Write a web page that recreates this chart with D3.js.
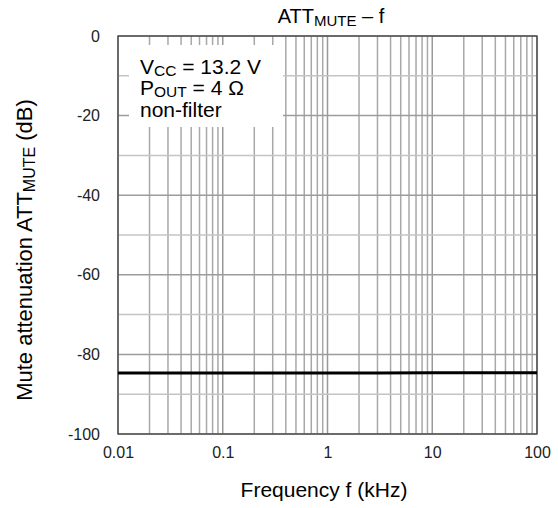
<!DOCTYPE html>
<html><head><meta charset="utf-8">
<script src="https://cdn.jsdelivr.net/npm/d3@7"></script>
<style>body{margin:0;background:#fff}svg{font-family:"Liberation Sans",Arial,sans-serif}</style>
</head><body><svg id="c" width="558" height="508"></svg>
<script>
const freqs = [0.01, 0.03, 0.1, 0.3, 1, 3, 10, 30, 100];
const attValues = [-84.7, -84.7, -84.7, -84.7, -84.7, -84.7, -84.6, -84.6, -84.6];
const xTicks = [0.01, 0.1, 1, 10, 100];
const xTickLabels = ["0.01", "0.1", "1", "10", "100"];
const yTicks = [0, -20, -40, -60, -80, -100];
const yTickLabels = ["0", "-20", "-40", "-60", "-80", "-100"];
const legendLines = [["V", "CC", " = 13.2 V"], ["P", "OUT", " = 4 Ω"], ["non-filter", "", ""]];

const svg = d3.select("#c");
const L = 118, R = 537, T = 36, B = 434;
const x = d3.scaleLog().domain([0.01, 100]).range([L, R]);
const y = d3.scaleLinear().domain([-100, 0]).range([B, T]);

// grid
const g = svg.append("g");
const minor = [];
for (let d = 0.01; d < 100; d *= 10) for (let k = 2; k <= 9; k++) minor.push(+(d * k).toPrecision(3));
g.selectAll(".vm").data(minor).enter().append("line")
  .attr("x1", d => x(d)).attr("x2", d => x(d)).attr("y1", T).attr("y2", B)
  .attr("stroke", "#a8a8a8").attr("stroke-width", 1.5);
g.selectAll(".vM").data(xTicks).enter().append("line")
  .attr("x1", d => x(d)).attr("x2", d => x(d)).attr("y1", T).attr("y2", B)
  .attr("stroke", "#999").attr("stroke-width", 1.5);
const hMinor = d3.range(-90, 0, 20);
g.selectAll(".hm").data(hMinor).enter().append("line")
  .attr("x1", L).attr("x2", R).attr("y1", d => y(d)).attr("y2", d => y(d))
  .attr("stroke", "#c4c4c4").attr("stroke-width", 1.5);
g.selectAll(".hM").data(yTicks).enter().append("line")
  .attr("x1", L).attr("x2", R).attr("y1", d => y(d)).attr("y2", d => y(d))
  .attr("stroke", "#9c9c9c").attr("stroke-width", 1.5);

// legend box
svg.append("rect").attr("x", 129).attr("y", 45).attr("width", 154).attr("height", 82).attr("fill", "#fff");
const lt = svg.append("g").attr("font-size", 21).attr("fill", "#000");
legendLines.forEach((l, i) => {
  const t = lt.append("text").attr("x", 140).attr("y", 73.5 + i * 21.5);
  t.append("tspan").text(l[0]);
  if (l[1]) t.append("tspan").attr("dy", 2).attr("font-size", 15.5).text(l[1]);
  if (l[2]) t.append("tspan").attr("dy", l[1] ? -2 : 0).text(l[2]);
});

// frame
svg.append("rect").attr("x", L).attr("y", T).attr("width", R - L).attr("height", B - T)
  .attr("fill", "none").attr("stroke", "#444").attr("stroke-width", 1.3);

// data line
svg.append("path").datum(freqs.map((f, i) => [f, attValues[i]]))
  .attr("d", d3.line().x(d => x(d[0])).y(d => y(d[1])))
  .attr("fill", "none").attr("stroke", "#000").attr("stroke-width", 3);

// axes
const xa = svg.append("g").attr("transform", `translate(0,${B + 10})`)
  .call(d3.axisBottom(x).tickValues(xTicks).tickFormat((d, i) => xTickLabels[i]).tickSize(0));
xa.select(".domain").remove();
xa.selectAll("text").attr("font-size", 16).attr("fill", "#222").attr("font-family", "Liberation Sans, Arial, sans-serif");
const ya = svg.append("g").attr("transform", `translate(${L - 15},0)`)
  .call(d3.axisLeft(y).tickValues(yTicks).tickFormat((d, i) => yTickLabels[i]).tickSize(0));
ya.select(".domain").remove();
ya.selectAll("text").attr("font-size", 16).attr("fill", "#222").attr("font-family", "Liberation Sans, Arial, sans-serif");

// title
const tt = svg.append("text").attr("x", 331).attr("y", 23).attr("text-anchor", "middle").attr("font-size", 20);
tt.append("tspan").text("ATT");
tt.append("tspan").attr("dy", 3).attr("font-size", 15).text("MUTE");
tt.append("tspan").attr("dy", -3).text(" – f");

// x label
svg.append("text").attr("x", 324).attr("y", 497).attr("text-anchor", "middle").attr("font-size", 21).text("Frequency f (kHz)");
// y label
const yl = svg.append("text").attr("transform", "translate(32,250) rotate(-90)").attr("text-anchor", "middle").attr("font-size", 22);
yl.append("tspan").text("Mute attenuation ATT");
yl.append("tspan").attr("dy", 3).attr("font-size", 16).text("MUTE");
yl.append("tspan").attr("dy", -3).text(" (dB)");
</script></body></html>
